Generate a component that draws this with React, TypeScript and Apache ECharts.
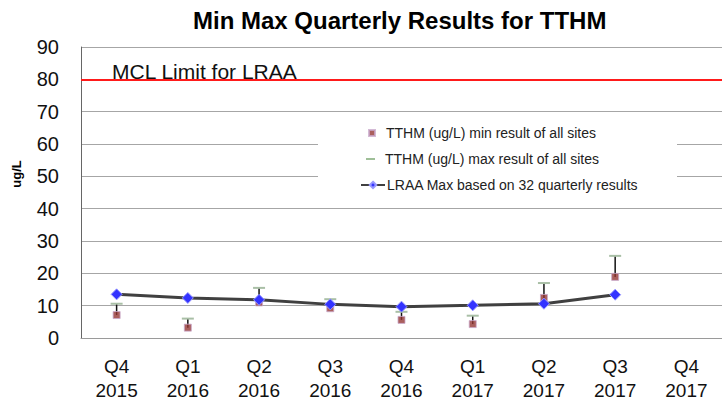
import React, { useEffect, useRef } from "react";
import * as echarts from "echarts";

const categories = [
  "Q4\n2015", "Q1\n2016", "Q2\n2016", "Q3\n2016", "Q4\n2016",
  "Q1\n2017", "Q2\n2017", "Q3\n2017", "Q4\n2017",
];
const minValues = [7.1, 3.2, 11.0, 9.2, 5.6, 4.3, 12.4, 18.9, null];
const maxValues = [10.6, 6.0, 15.5, 12.0, 8.1, 6.9, 17.0, 25.4, null];
const lraaValues = [13.5, 12.4, 11.8, 10.4, 9.7, 10.1, 10.6, 13.4, null];
const mclLimit = 80;
const yMin = 0;
const yMax = 90;
const yInterval = 10;

const MIN_NAME = "TTHM (ug/L) min result of all sites";
const MAX_NAME = "TTHM (ug/L) max result of all sites";
const LRAA_NAME = "LRAA Max based on 32 quarterly results";
const FONT = "Liberation Sans, Arial, sans-serif";

export default function App() {
  const ref = useRef<HTMLDivElement>(null);
  useEffect(() => {
    if (!ref.current) return;
    const chart = echarts.init(ref.current, null, { renderer: "svg" });
    const rangeData: any[] = [];
    categories.forEach((_, i) => {
      if (minValues[i] != null && maxValues[i] != null) {
        rangeData.push([i, minValues[i], maxValues[i]]);
      }
    });
    const legendText = { fontFamily: FONT, fontSize: 14, color: "#222" };
    chart.setOption({
      animation: false,
      backgroundColor: "#fff",
      title: {
        text: "Min Max Quarterly Results for TTHM",
        left: 193,
        top: 8,
        padding: 0,
        textStyle: { fontFamily: FONT, fontSize: 24, fontWeight: "bold", color: "#000" },
      },
      grid: { left: 81, right: -3, top: 47, bottom: 65, containLabel: false },
      legend: [
        {
          data: [{ name: MIN_NAME, icon: "rect" }],
          left: 368, top: 126, padding: 0, itemWidth: 6, itemHeight: 6,
          textStyle: { ...legendText, padding: [0, 0, 0, 6] }, z: 10,
        },
        {
          data: [{ name: MAX_NAME, icon: "rect" }],
          left: 366, top: 152, padding: 0, itemWidth: 9, itemHeight: 2,
          textStyle: { ...legendText, padding: [0, 0, 0, 5] }, z: 10,
        },
        {
          data: [{ name: LRAA_NAME }],
          left: 360, top: 178, padding: 0, itemWidth: 24, itemHeight: 8,
          textStyle: { ...legendText, padding: [0, 0, 0, -3] }, z: 10,
        },
      ],
      graphic: [
        {
          type: "rect",
          shape: { x: 318, y: 118, width: 359, height: 82 },
          style: { fill: "#fff" },
          z: 1,
        },
        {
          type: "text",
          x: 16,
          y: 174,
          rotation: Math.PI / 2,
          style: {
            text: "ug/L",
            fontFamily: FONT,
            fontSize: 13,
            fontWeight: "bold",
            fill: "#000",
            align: "center",
            verticalAlign: "middle",
          },
        },
      ],
      xAxis: {
        type: "category",
        data: categories,
        boundaryGap: true,
        axisLine: { show: true, lineStyle: { color: "#9a9a9a", width: 1 } },
        axisTick: { show: false },
        axisLabel: {
          fontFamily: FONT,
          fontSize: 19,
          color: "#111",
          lineHeight: 24,
          margin: 16,
          interval: 0,
        },
        splitLine: { show: false },
      },
      yAxis: {
        type: "value",
        min: yMin,
        max: yMax,
        interval: yInterval,
        axisLine: { show: true, lineStyle: { color: "#666", width: 1 } },
        axisTick: { show: false },
        axisLabel: { fontFamily: FONT, fontSize: 20, color: "#111", margin: 22 },
        splitLine: { show: true, lineStyle: { color: "#a6a6a6", width: 1 } },
      },
      series: [
        {
          name: MAX_NAME,
          type: "custom",
          z: 1,
          itemStyle: { color: "#9fbf98" },
          data: rangeData,
          renderItem: (params: any, api: any) => {
            const x = api.value(0);
            const lo = api.coord([x, api.value(1)]);
            const hi = api.coord([x, api.value(2)]);
            return {
              type: "group",
              children: [
                {
                  type: "line",
                  shape: { x1: lo[0], y1: lo[1], x2: hi[0], y2: hi[1] },
                  style: { stroke: "#111", lineWidth: 1.5 },
                },
                {
                  type: "line",
                  shape: { x1: hi[0] - 6, y1: hi[1], x2: hi[0] + 6, y2: hi[1] },
                  style: { stroke: "#a9bfa6", lineWidth: 2 },
                },
              ],
            };
          },
        },
        {
          name: MIN_NAME,
          type: "scatter",
          z: 3,
          symbol: "rect",
          symbolSize: 7,
          itemStyle: { color: "#953735", borderColor: "#c9a9cc", borderWidth: 1 },
          data: minValues,
        },
        {
          name: LRAA_NAME,
          type: "line",
          z: 4,
          symbol: "diamond",
          symbolSize: 11,
          itemStyle: { color: "#3333ff", borderColor: "#9999ff", borderWidth: 1 },
          lineStyle: { color: "#404040", width: 3 },
          data: lraaValues,
          markLine: {
            silent: true,
            symbol: "none",
            data: [{ yAxis: mclLimit }],
            lineStyle: { color: "#ff1a1a", width: 2, type: "solid" },
            label: {
              show: true,
              formatter: "MCL Limit for LRAA",
              position: "insideStartTop",
              fontFamily: FONT,
              fontSize: 21,
              color: "#111",
              distance: [31, -3],
            },
          },
        },
      ],
    });
    return () => chart.dispose();
  }, []);
  return (
    <div
      ref={ref}
      style={{ position: "absolute", left: 0, top: 0, width: 722, height: 403 }}
    />
  );
}
